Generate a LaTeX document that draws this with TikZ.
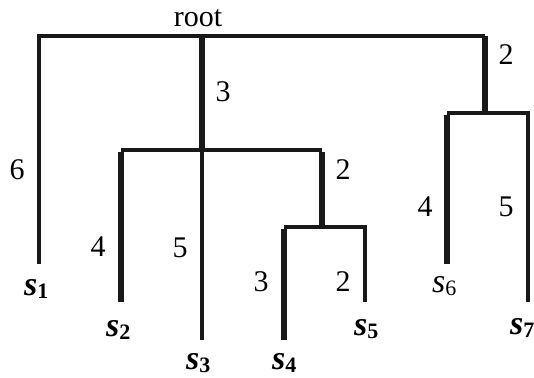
\documentclass[tikz,border=0pt]{standalone}
\usepackage{fontspec}
\setmainfont{Liberation Serif}
\begin{document}
\begin{tikzpicture}[x=1pt,y=-1pt,
  thinline/.style={line width=3.3pt,color=black!90},
  thickline/.style={line width=5.5pt,color=black!90},
  num/.style={inner sep=0pt,font=\fontsize{30}{33}\selectfont},
  leaf/.style={inner sep=0pt,anchor=base west}]
\useasboundingbox (0,0) rectangle (534,377);
\newcommand{\slab}[2]{{\fontsize{34}{36}\selectfont\bfseries\itshape s}\raisebox{-3pt}{\fontsize{22}{24}\selectfont\bfseries #1}}
\newcommand{\slabr}[1]{{\fontsize{34}{36}\selectfont\itshape s}\raisebox{-3pt}{\fontsize{22}{24}\selectfont #1}}
% junction coordinates
\coordinate (TL) at (39,36);
\coordinate (R) at (202,36);
\coordinate (TR) at (485,36);
\coordinate (A) at (202,150);
\coordinate (AL) at (121,150);
\coordinate (AR) at (322,150);
\coordinate (B) at (485,113);
\coordinate (BL) at (447,113);
\coordinate (BR) at (528,113);
\coordinate (C) at (322,227);
\coordinate (CL) at (284,227);
\coordinate (CR) at (365,227);
% leaf ends
\coordinate (e1) at (39,264);
\coordinate (e2) at (121,302);
\coordinate (e3) at (202,340);
\coordinate (e4) at (284,340);
\coordinate (e5) at (365,302);
\coordinate (e6) at (447,264);
\coordinate (e7) at (528,302);
% thin lines
\draw[thinline] (e1) -- (TL) -- (TR);
\draw[thinline] (AL) -- (AR);
\draw[thinline] (A) -- (e3);
\draw[thinline] (BL) -- (BR) -- (e7);
\draw[thinline] (CL) -- (CR) -- (e5);
% thick lines
\draw[thickline] (R) -- (A);
\draw[thickline] (TR) -- (B);
\draw[thickline] ([yshift=-1.5pt]AL) -- (e2);
\draw[thickline] ([yshift=-1.5pt]AR) -- (C);
\draw[thickline] ([yshift=-1.5pt]CL) -- (e4);
\draw[thickline] ([yshift=-1.5pt]BL) -- (e6);
% labels
\node[inner sep=0pt,anchor=base,font=\fontsize{30}{33}\selectfont] (root) at (198,27) {root};
\node[num] (w1) at (17,170) {6};
\node[num] (wA) at (223,92) {3};
\node[num] (wB) at (506,55) {2};
\node[num] (wC) at (343,170) {2};
\node[num] (w2) at (98,247) {4};
\node[num] (w3) at (180,248) {5};
\node[num] (w4) at (261,282) {3};
\node[num] (w5) at (343,282) {2};
\node[num] (w6) at (425,207) {4};
\node[num] (w7) at (506,207) {5};
\node[leaf] (s1) at (24,295) {\slab{1}{}};
\node[leaf] (s2) at (106,336) {\slab{2}{}};
\node[leaf] (s3) at (186,369) {\slab{3}{}};
\node[leaf] (s4) at (272,369) {\slab{4}{}};
\node[leaf] (s5) at (354,335) {\slab{5}{}};
\node[leaf] (s6) at (432,292) {\slabr{6}};
\node[leaf] (s7) at (510,334) {\slab{7}{}};
\end{tikzpicture}
\end{document}
